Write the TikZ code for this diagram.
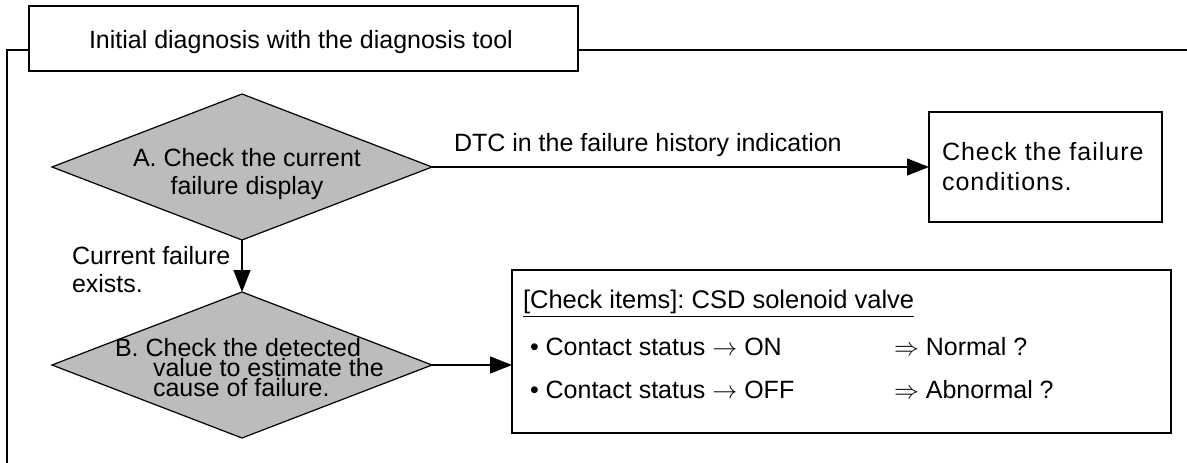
\documentclass[tikz,border=0pt]{standalone}
\usepackage{fontspec}
\setmainfont{Liberation Sans}
\usetikzlibrary{arrows.meta,shapes.geometric}
\definecolor{diagray}{RGB}{188,188,188}
\frenchspacing
\begin{document}
\begin{tikzpicture}[x=1pt,y=-1pt,
  every node/.style={font=\fontsize{25}{28}\selectfont, inner sep=0pt, outer sep=0pt},
  ln/.style={line width=1.2pt, draw=black},
  arr/.style={line width=1.2pt, draw=black, -{Triangle[length=22pt,width=17pt]}},
  dia/.style={diamond, draw=black, line width=1.2pt, fill=diagray, minimum width=380pt, minimum height=146pt},
  boxx/.style={rectangle, draw=black, line width=1.2pt, fill=white}]
\useasboundingbox (0,0) rectangle (1187,463);
% frame with title
\coordinate (fbot) at (7,463);
\coordinate (fl) at (29,50);
\coordinate (fr) at (578,50);
\coordinate (fend) at (1187,50);
\draw[ln] (fbot) |- (fl);
\draw[ln] (fr) -- (fend);
\node[boxx, minimum width=549pt, minimum height=65pt] (T) at (303.5,38.5) {};
\node[anchor=base west] (Tt) at (89,48) {Initial diagnosis with the diagnosis tool};
% diamonds
\node[dia] (A) at (242,167) {};
\node[align=center, font=\fontsize{25}{28}\selectfont] (At) at (247,174) {A. Check the current\\failure display};
\node[dia] (B) at (242,365) {};
\node[align=left, anchor=west, font=\fontsize{25}{20}\selectfont] (Bt) at (115,368) {B. Check the detected\\\hspace*{38pt}value to estimate the\\\hspace*{38pt}cause of failure.};
% box 1
\node[boxx, minimum width=233pt, minimum height=110pt] (C) at (1045.5,167) {};
\node[align=left, anchor=west, font=\fontsize{25}{30}\selectfont\addfontfeature{LetterSpace=4}] (Ct) at (942,167) {Check the failure\\conditions.};
% box 2
\node[boxx, minimum width=659pt, minimum height=163pt] (D) at (841.5,351.5) {};
\node[anchor=base west, font=\fontsize{25.5}{28}\selectfont] (Dh) at (523,308) {[Check items]: CSD solenoid valve};
\draw[line width=1pt] ([yshift=-8pt]Dh.base west) -- ([yshift=-8pt]Dh.base east);
\node[anchor=base west] (D1) at (530,355) {\textbullet\ Contact status $\rightarrow$ ON};
\node[anchor=base west] (D2) at (530,398) {\textbullet\ Contact status $\rightarrow$ OFF};
\node[anchor=base west] (D3) at (894,355) {$\Rightarrow$ Normal ?};
\node[anchor=base west] (D4) at (894,398) {$\Rightarrow$ Abnormal ?};
% connectors
\draw[arr] (A.east) -- (C.west);
\node[anchor=base west] (Lab1) at (454,151) {DTC in the failure history indication};
\draw[arr] (A.south) -- (B.north);
\node[align=left, anchor=west, font=\fontsize{25}{28}\selectfont] (Lab2) at (72,270) {Current failure\\exists.};
\draw[arr] (B.east) -- (B.east -| D.west);
\end{tikzpicture}
\end{document}
